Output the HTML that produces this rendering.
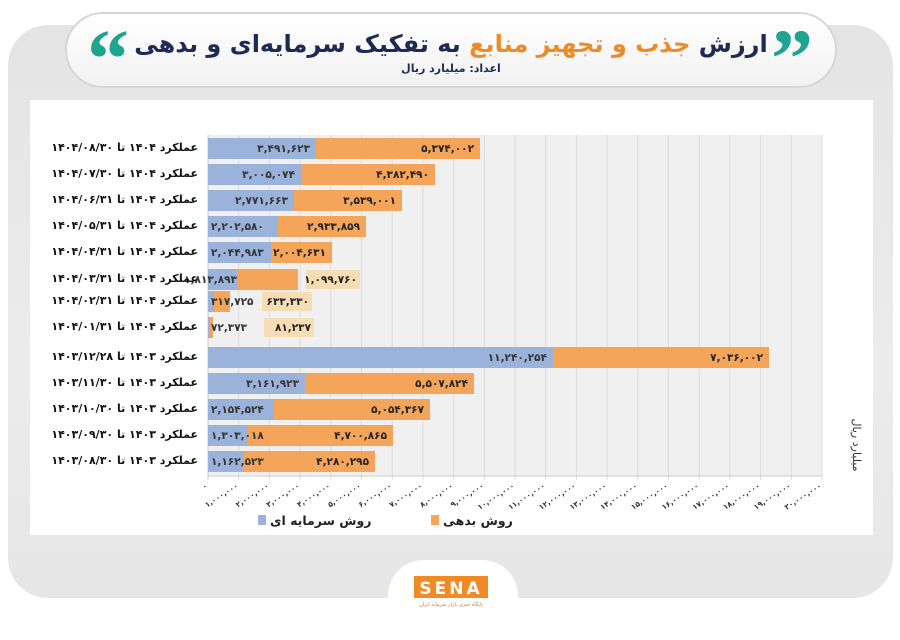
<!DOCTYPE html>
<html><head><meta charset="utf-8"><style>
*{margin:0;padding:0;box-sizing:border-box}
body{width:900px;height:623px;background:#fff;position:relative;overflow:hidden;font-family:"DejaVu Sans","Liberation Sans",sans-serif}
.bg{position:absolute;left:8px;top:25px;width:885px;height:573px;border-radius:40px;background:linear-gradient(180deg,#e4e4e4,#ececec 60%,#e6e6e6)}
.pill{position:absolute;left:65px;top:12px;width:772px;height:76px;border-radius:38px;background:linear-gradient(#fff,#f1f1f1);border:2px solid #d6d6d6}
.title{position:absolute;left:0;right:0;top:16px;text-align:center;font-weight:bold;font-size:24px;color:#1c2a55;direction:rtl}
.title .o{color:#f08a25}
.sub{position:absolute;left:0;right:0;top:48px;text-align:center;font-weight:bold;font-size:11px;color:#1c2a55;direction:rtl}
.q{position:absolute;top:4px;font-size:84px;font-weight:bold;color:#1fa58e;font-family:"Liberation Serif",serif;line-height:1}
.panel{position:absolute;left:30px;top:100px;width:843px;height:435px;background:#fff}
.logo{position:absolute;left:388px;top:560px;width:130px;height:80px;border-radius:36px;background:#fff}
.lab{position:absolute;right:702px;width:200px;text-align:right;direction:rtl;font-size:11px;font-weight:bold;color:#111;white-space:nowrap;line-height:14px}
.leg{position:absolute;top:513px;font-size:12.5px;font-weight:bold;color:#222;direction:rtl;white-space:nowrap}
</style></head><body>
<div class="bg"></div>
<div class="pill">
<div class="q" style="left:20px">“</div>
<div class="q" style="right:22px">”</div>
<div class="title">ارزش <span class="o">جذب و تجهیز منابع</span> به تفکیک سرمایه‌ای و بدهی</div>
<div class="sub">اعداد: میلیارد ریال</div>
</div>
<div class="panel"></div>
<div class="logo"></div>
<svg style="position:absolute;left:0;top:0" width="900" height="623" font-family="DejaVu Sans, Liberation Sans, sans-serif">
<rect x="208" y="135" width="614" height="341" fill="#f0f0f0"/>
<g stroke="#dcdcdc" stroke-width="1" id="grid"></g>
<line x1="208" y1="135" x2="208" y2="480" stroke="#ccc"/>
<line x1="208" y1="476" x2="822" y2="476" stroke="#ccc"/>
<g id="bars"></g>
<g id="ticks" font-size="7.5" fill="#333" font-weight="bold"></g>
<text x="853" y="445" font-size="11" fill="#333" transform="rotate(90 853 445)" text-anchor="middle">میلیارد ریال</text>
<rect x="258" y="515" width="8" height="10" fill="#9bb3db"/>
<rect x="431" y="515" width="8" height="10" fill="#f5a55a"/>
<rect x="414" y="576" width="74" height="22" fill="#f08a25"/>
<text x="451" y="594" font-size="17" font-weight="bold" fill="#fff" text-anchor="middle" letter-spacing="3">SENA</text>
<text x="451" y="606" font-size="5" fill="#c07a30" text-anchor="middle">پایگاه خبری بازار سرمایه ایران</text>
</svg>
<div class="leg" style="left:270px">روش سرمایه ای</div>
<div class="leg" style="left:443px">روش بدهی</div>
<div id="labs"></div>
<script>
const fa=s=>s.replace(/\d/g,d=>'۰۱۲۳۴۵۶۷۸۹'[d]);
const rows=[
["عملکرد ۱۴۰۴ تا ۱۴۰۴/۰۸/۳۰",148,316,480,"3,491,623","5,374,002"],
["عملکرد ۱۴۰۴ تا ۱۴۰۴/۰۷/۳۰",174,301,435,"3,005,074","4,382,490"],
["عملکرد ۱۴۰۴ تا ۱۴۰۴/۰۶/۳۱",200,294,402,"2,771,663","3,539,001"],
["عملکرد ۱۴۰۴ تا ۱۴۰۴/۰۵/۳۱",226,277,366,"2,202,580","2,933,859"],
["عملکرد ۱۴۰۴ تا ۱۴۰۴/۰۴/۳۱",252,271,332,"2,044,983","2,004,631"],
["عملکرد ۱۴۰۴ تا ۱۴۰۴/۰۳/۳۱",279,237,298,"1,813,893","1,099,760"],
["عملکرد ۱۴۰۴ تا ۱۴۰۴/۰۲/۳۱",301,214,230,"317,725","633,330"],
["عملکرد ۱۴۰۴ تا ۱۴۰۴/۰۱/۳۱",327,210,213,"72,373","81,237"],
["عملکرد ۱۴۰۳ تا ۱۴۰۳/۱۲/۲۸",357,553,769,"11,240,254","7,036,002"],
["عملکرد ۱۴۰۳ تا ۱۴۰۳/۱۱/۳۰",383,305,474,"3,161,923","5,507,824"],
["عملکرد ۱۴۰۳ تا ۱۴۰۳/۱۰/۳۰",409,274,430,"2,154,524","5,054,367"],
["عملکرد ۱۴۰۳ تا ۱۴۰۳/۰۹/۳۰",435,248,393,"1,303,018","4,700,865"],
["عملکرد ۱۴۰۳ تا ۱۴۰۳/۰۸/۳۰",461,244,375,"1,162,523","4,280,295"]];
const NS='http://www.w3.org/2000/svg';
function el(p,t,a,txt){const e=document.createElementNS(NS,t);for(const k in a)e.setAttribute(k,a[k]);if(txt)e.textContent=txt;p.appendChild(e);return e}
const g=document.getElementById('grid'),b=document.getElementById('bars'),tk=document.getElementById('ticks'),L=document.getElementById('labs');
for(let i=1;i<=20;i++){const x=208+i*30.7;el(g,'line',{x1:x,y1:135,x2:x,y2:476});el(g,'line',{x1:x,y1:476,x2:x,y2:480})}
for(let i=0;i<=20;i++){const x=208+i*30.7;const s=i?fa((i*1000000).toLocaleString('en-US')):'۰';
el(tk,'text',{x:x,y:487,'text-anchor':'end',transform:`rotate(-33 ${x} 487)`},s)}
rows.forEach(r=>{const [lab,y,bx,ox,bv,ov]=r;
const d=document.createElement('div');d.className='lab';d.style.top=(y-7)+'px';d.textContent=lab;L.appendChild(d);
el(b,'rect',{x:208,y:y-10,width:bx-208,height:21,fill:'#9bb3db'});
el(b,'rect',{x:bx,y:y-10,width:ox-bx,height:21,fill:'#f5a55a'});
const fs={'font-size':10.5,'font-weight':'bold'};
const blueStart=(bx-208<70 && y!=279);
if(blueStart) el(b,'text',{...fs,x:211,y:y+4,'text-anchor':'start',fill:'#333'},fa(bv));
else el(b,'text',{...fs,x:bx-(y==279?0:6),y:y+4,'text-anchor':'end',fill:'#333'},fa(bv));
if(ox-208>=100) el(b,'text',{...fs,x:ox-6,y:y+4,'text-anchor':'end',fill:'#222'},fa(ov));
else{const lx=y==279?306:(y==301?262:264);
el(b,'rect',{x:lx,y:y-9,width:y==279?54:50,height:19,fill:'#f8dcb4'});
el(b,'text',{...fs,x:lx+(y==279?51:47),y:y+4,'text-anchor':'end',fill:'#222'},fa(ov));}
});
</script>
</body></html>
